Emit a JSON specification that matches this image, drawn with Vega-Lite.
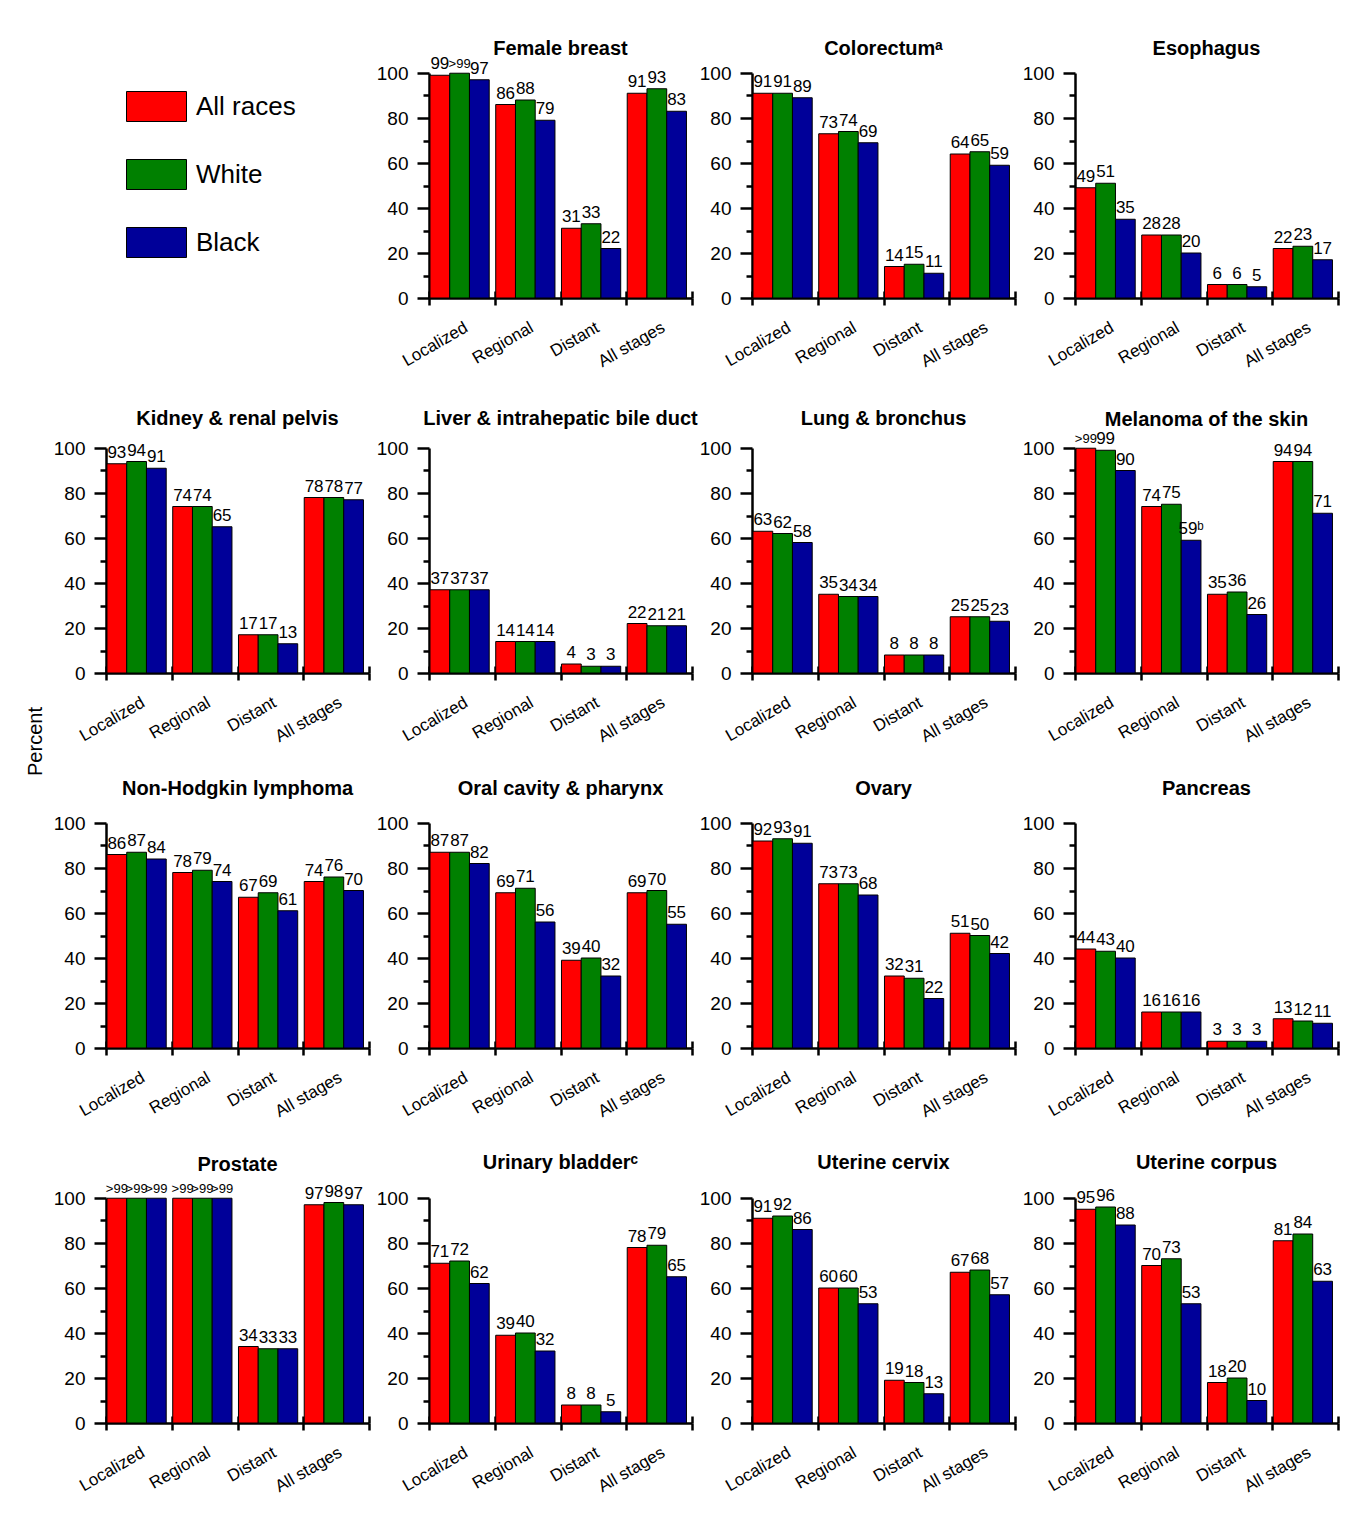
{
  "$schema": "https://vega.github.io/schema/vega-lite/v6.json",
  "background": "white",
  "padding": {"left": 25, "top": 39, "right": 5, "bottom": 5},
  "bounds": "flush",
  "columns": 4,
  "spacing": {"row": 150, "column": 60},
  "datasets": {
    "surv": [
      {"cancer":"Female breast","stage":"Localized","race":"All races","pct":99,"label":"99"},
      {"cancer":"Female breast","stage":"Localized","race":"White","pct":99.9,"label":">99"},
      {"cancer":"Female breast","stage":"Localized","race":"Black","pct":97,"label":"97"},
      {"cancer":"Female breast","stage":"Regional","race":"All races","pct":86,"label":"86"},
      {"cancer":"Female breast","stage":"Regional","race":"White","pct":88,"label":"88"},
      {"cancer":"Female breast","stage":"Regional","race":"Black","pct":79,"label":"79"},
      {"cancer":"Female breast","stage":"Distant","race":"All races","pct":31,"label":"31"},
      {"cancer":"Female breast","stage":"Distant","race":"White","pct":33,"label":"33"},
      {"cancer":"Female breast","stage":"Distant","race":"Black","pct":22,"label":"22"},
      {"cancer":"Female breast","stage":"All stages","race":"All races","pct":91,"label":"91"},
      {"cancer":"Female breast","stage":"All stages","race":"White","pct":93,"label":"93"},
      {"cancer":"Female breast","stage":"All stages","race":"Black","pct":83,"label":"83"},

      {"cancer":"Colorectum","stage":"Localized","race":"All races","pct":91,"label":"91"},
      {"cancer":"Colorectum","stage":"Localized","race":"White","pct":91,"label":"91"},
      {"cancer":"Colorectum","stage":"Localized","race":"Black","pct":89,"label":"89"},
      {"cancer":"Colorectum","stage":"Regional","race":"All races","pct":73,"label":"73"},
      {"cancer":"Colorectum","stage":"Regional","race":"White","pct":74,"label":"74"},
      {"cancer":"Colorectum","stage":"Regional","race":"Black","pct":69,"label":"69"},
      {"cancer":"Colorectum","stage":"Distant","race":"All races","pct":14,"label":"14"},
      {"cancer":"Colorectum","stage":"Distant","race":"White","pct":15,"label":"15"},
      {"cancer":"Colorectum","stage":"Distant","race":"Black","pct":11,"label":"11"},
      {"cancer":"Colorectum","stage":"All stages","race":"All races","pct":64,"label":"64"},
      {"cancer":"Colorectum","stage":"All stages","race":"White","pct":65,"label":"65"},
      {"cancer":"Colorectum","stage":"All stages","race":"Black","pct":59,"label":"59"},

      {"cancer":"Esophagus","stage":"Localized","race":"All races","pct":49,"label":"49"},
      {"cancer":"Esophagus","stage":"Localized","race":"White","pct":51,"label":"51"},
      {"cancer":"Esophagus","stage":"Localized","race":"Black","pct":35,"label":"35"},
      {"cancer":"Esophagus","stage":"Regional","race":"All races","pct":28,"label":"28"},
      {"cancer":"Esophagus","stage":"Regional","race":"White","pct":28,"label":"28"},
      {"cancer":"Esophagus","stage":"Regional","race":"Black","pct":20,"label":"20"},
      {"cancer":"Esophagus","stage":"Distant","race":"All races","pct":6,"label":"6"},
      {"cancer":"Esophagus","stage":"Distant","race":"White","pct":6,"label":"6"},
      {"cancer":"Esophagus","stage":"Distant","race":"Black","pct":5,"label":"5"},
      {"cancer":"Esophagus","stage":"All stages","race":"All races","pct":22,"label":"22"},
      {"cancer":"Esophagus","stage":"All stages","race":"White","pct":23,"label":"23"},
      {"cancer":"Esophagus","stage":"All stages","race":"Black","pct":17,"label":"17"},

      {"cancer":"Kidney & renal pelvis","stage":"Localized","race":"All races","pct":93,"label":"93"},
      {"cancer":"Kidney & renal pelvis","stage":"Localized","race":"White","pct":94,"label":"94"},
      {"cancer":"Kidney & renal pelvis","stage":"Localized","race":"Black","pct":91,"label":"91"},
      {"cancer":"Kidney & renal pelvis","stage":"Regional","race":"All races","pct":74,"label":"74"},
      {"cancer":"Kidney & renal pelvis","stage":"Regional","race":"White","pct":74,"label":"74"},
      {"cancer":"Kidney & renal pelvis","stage":"Regional","race":"Black","pct":65,"label":"65"},
      {"cancer":"Kidney & renal pelvis","stage":"Distant","race":"All races","pct":17,"label":"17"},
      {"cancer":"Kidney & renal pelvis","stage":"Distant","race":"White","pct":17,"label":"17"},
      {"cancer":"Kidney & renal pelvis","stage":"Distant","race":"Black","pct":13,"label":"13"},
      {"cancer":"Kidney & renal pelvis","stage":"All stages","race":"All races","pct":78,"label":"78"},
      {"cancer":"Kidney & renal pelvis","stage":"All stages","race":"White","pct":78,"label":"78"},
      {"cancer":"Kidney & renal pelvis","stage":"All stages","race":"Black","pct":77,"label":"77"},

      {"cancer":"Liver & intrahepatic bile duct","stage":"Localized","race":"All races","pct":37,"label":"37"},
      {"cancer":"Liver & intrahepatic bile duct","stage":"Localized","race":"White","pct":37,"label":"37"},
      {"cancer":"Liver & intrahepatic bile duct","stage":"Localized","race":"Black","pct":37,"label":"37"},
      {"cancer":"Liver & intrahepatic bile duct","stage":"Regional","race":"All races","pct":14,"label":"14"},
      {"cancer":"Liver & intrahepatic bile duct","stage":"Regional","race":"White","pct":14,"label":"14"},
      {"cancer":"Liver & intrahepatic bile duct","stage":"Regional","race":"Black","pct":14,"label":"14"},
      {"cancer":"Liver & intrahepatic bile duct","stage":"Distant","race":"All races","pct":4,"label":"4"},
      {"cancer":"Liver & intrahepatic bile duct","stage":"Distant","race":"White","pct":3,"label":"3"},
      {"cancer":"Liver & intrahepatic bile duct","stage":"Distant","race":"Black","pct":3,"label":"3"},
      {"cancer":"Liver & intrahepatic bile duct","stage":"All stages","race":"All races","pct":22,"label":"22"},
      {"cancer":"Liver & intrahepatic bile duct","stage":"All stages","race":"White","pct":21,"label":"21"},
      {"cancer":"Liver & intrahepatic bile duct","stage":"All stages","race":"Black","pct":21,"label":"21"},

      {"cancer":"Lung & bronchus","stage":"Localized","race":"All races","pct":63,"label":"63"},
      {"cancer":"Lung & bronchus","stage":"Localized","race":"White","pct":62,"label":"62"},
      {"cancer":"Lung & bronchus","stage":"Localized","race":"Black","pct":58,"label":"58"},
      {"cancer":"Lung & bronchus","stage":"Regional","race":"All races","pct":35,"label":"35"},
      {"cancer":"Lung & bronchus","stage":"Regional","race":"White","pct":34,"label":"34"},
      {"cancer":"Lung & bronchus","stage":"Regional","race":"Black","pct":34,"label":"34"},
      {"cancer":"Lung & bronchus","stage":"Distant","race":"All races","pct":8,"label":"8"},
      {"cancer":"Lung & bronchus","stage":"Distant","race":"White","pct":8,"label":"8"},
      {"cancer":"Lung & bronchus","stage":"Distant","race":"Black","pct":8,"label":"8"},
      {"cancer":"Lung & bronchus","stage":"All stages","race":"All races","pct":25,"label":"25"},
      {"cancer":"Lung & bronchus","stage":"All stages","race":"White","pct":25,"label":"25"},
      {"cancer":"Lung & bronchus","stage":"All stages","race":"Black","pct":23,"label":"23"},

      {"cancer":"Melanoma of the skin","stage":"Localized","race":"All races","pct":99.9,"label":">99"},
      {"cancer":"Melanoma of the skin","stage":"Localized","race":"White","pct":99,"label":"99"},
      {"cancer":"Melanoma of the skin","stage":"Localized","race":"Black","pct":90,"label":"90"},
      {"cancer":"Melanoma of the skin","stage":"Regional","race":"All races","pct":74,"label":"74"},
      {"cancer":"Melanoma of the skin","stage":"Regional","race":"White","pct":75,"label":"75"},
      {"cancer":"Melanoma of the skin","stage":"Regional","race":"Black","pct":59,"label":"59ᵇ"},
      {"cancer":"Melanoma of the skin","stage":"Distant","race":"All races","pct":35,"label":"35"},
      {"cancer":"Melanoma of the skin","stage":"Distant","race":"White","pct":36,"label":"36"},
      {"cancer":"Melanoma of the skin","stage":"Distant","race":"Black","pct":26,"label":"26"},
      {"cancer":"Melanoma of the skin","stage":"All stages","race":"All races","pct":94,"label":"94"},
      {"cancer":"Melanoma of the skin","stage":"All stages","race":"White","pct":94,"label":"94"},
      {"cancer":"Melanoma of the skin","stage":"All stages","race":"Black","pct":71,"label":"71"},

      {"cancer":"Non-Hodgkin lymphoma","stage":"Localized","race":"All races","pct":86,"label":"86"},
      {"cancer":"Non-Hodgkin lymphoma","stage":"Localized","race":"White","pct":87,"label":"87"},
      {"cancer":"Non-Hodgkin lymphoma","stage":"Localized","race":"Black","pct":84,"label":"84"},
      {"cancer":"Non-Hodgkin lymphoma","stage":"Regional","race":"All races","pct":78,"label":"78"},
      {"cancer":"Non-Hodgkin lymphoma","stage":"Regional","race":"White","pct":79,"label":"79"},
      {"cancer":"Non-Hodgkin lymphoma","stage":"Regional","race":"Black","pct":74,"label":"74"},
      {"cancer":"Non-Hodgkin lymphoma","stage":"Distant","race":"All races","pct":67,"label":"67"},
      {"cancer":"Non-Hodgkin lymphoma","stage":"Distant","race":"White","pct":69,"label":"69"},
      {"cancer":"Non-Hodgkin lymphoma","stage":"Distant","race":"Black","pct":61,"label":"61"},
      {"cancer":"Non-Hodgkin lymphoma","stage":"All stages","race":"All races","pct":74,"label":"74"},
      {"cancer":"Non-Hodgkin lymphoma","stage":"All stages","race":"White","pct":76,"label":"76"},
      {"cancer":"Non-Hodgkin lymphoma","stage":"All stages","race":"Black","pct":70,"label":"70"},

      {"cancer":"Oral cavity & pharynx","stage":"Localized","race":"All races","pct":87,"label":"87"},
      {"cancer":"Oral cavity & pharynx","stage":"Localized","race":"White","pct":87,"label":"87"},
      {"cancer":"Oral cavity & pharynx","stage":"Localized","race":"Black","pct":82,"label":"82"},
      {"cancer":"Oral cavity & pharynx","stage":"Regional","race":"All races","pct":69,"label":"69"},
      {"cancer":"Oral cavity & pharynx","stage":"Regional","race":"White","pct":71,"label":"71"},
      {"cancer":"Oral cavity & pharynx","stage":"Regional","race":"Black","pct":56,"label":"56"},
      {"cancer":"Oral cavity & pharynx","stage":"Distant","race":"All races","pct":39,"label":"39"},
      {"cancer":"Oral cavity & pharynx","stage":"Distant","race":"White","pct":40,"label":"40"},
      {"cancer":"Oral cavity & pharynx","stage":"Distant","race":"Black","pct":32,"label":"32"},
      {"cancer":"Oral cavity & pharynx","stage":"All stages","race":"All races","pct":69,"label":"69"},
      {"cancer":"Oral cavity & pharynx","stage":"All stages","race":"White","pct":70,"label":"70"},
      {"cancer":"Oral cavity & pharynx","stage":"All stages","race":"Black","pct":55,"label":"55"},

      {"cancer":"Ovary","stage":"Localized","race":"All races","pct":92,"label":"92"},
      {"cancer":"Ovary","stage":"Localized","race":"White","pct":93,"label":"93"},
      {"cancer":"Ovary","stage":"Localized","race":"Black","pct":91,"label":"91"},
      {"cancer":"Ovary","stage":"Regional","race":"All races","pct":73,"label":"73"},
      {"cancer":"Ovary","stage":"Regional","race":"White","pct":73,"label":"73"},
      {"cancer":"Ovary","stage":"Regional","race":"Black","pct":68,"label":"68"},
      {"cancer":"Ovary","stage":"Distant","race":"All races","pct":32,"label":"32"},
      {"cancer":"Ovary","stage":"Distant","race":"White","pct":31,"label":"31"},
      {"cancer":"Ovary","stage":"Distant","race":"Black","pct":22,"label":"22"},
      {"cancer":"Ovary","stage":"All stages","race":"All races","pct":51,"label":"51"},
      {"cancer":"Ovary","stage":"All stages","race":"White","pct":50,"label":"50"},
      {"cancer":"Ovary","stage":"All stages","race":"Black","pct":42,"label":"42"},

      {"cancer":"Pancreas","stage":"Localized","race":"All races","pct":44,"label":"44"},
      {"cancer":"Pancreas","stage":"Localized","race":"White","pct":43,"label":"43"},
      {"cancer":"Pancreas","stage":"Localized","race":"Black","pct":40,"label":"40"},
      {"cancer":"Pancreas","stage":"Regional","race":"All races","pct":16,"label":"16"},
      {"cancer":"Pancreas","stage":"Regional","race":"White","pct":16,"label":"16"},
      {"cancer":"Pancreas","stage":"Regional","race":"Black","pct":16,"label":"16"},
      {"cancer":"Pancreas","stage":"Distant","race":"All races","pct":3,"label":"3"},
      {"cancer":"Pancreas","stage":"Distant","race":"White","pct":3,"label":"3"},
      {"cancer":"Pancreas","stage":"Distant","race":"Black","pct":3,"label":"3"},
      {"cancer":"Pancreas","stage":"All stages","race":"All races","pct":13,"label":"13"},
      {"cancer":"Pancreas","stage":"All stages","race":"White","pct":12,"label":"12"},
      {"cancer":"Pancreas","stage":"All stages","race":"Black","pct":11,"label":"11"},

      {"cancer":"Prostate","stage":"Localized","race":"All races","pct":99.9,"label":">99"},
      {"cancer":"Prostate","stage":"Localized","race":"White","pct":99.9,"label":">99"},
      {"cancer":"Prostate","stage":"Localized","race":"Black","pct":99.9,"label":">99"},
      {"cancer":"Prostate","stage":"Regional","race":"All races","pct":99.9,"label":">99"},
      {"cancer":"Prostate","stage":"Regional","race":"White","pct":99.9,"label":">99"},
      {"cancer":"Prostate","stage":"Regional","race":"Black","pct":99.9,"label":">99"},
      {"cancer":"Prostate","stage":"Distant","race":"All races","pct":34,"label":"34"},
      {"cancer":"Prostate","stage":"Distant","race":"White","pct":33,"label":"33"},
      {"cancer":"Prostate","stage":"Distant","race":"Black","pct":33,"label":"33"},
      {"cancer":"Prostate","stage":"All stages","race":"All races","pct":97,"label":"97"},
      {"cancer":"Prostate","stage":"All stages","race":"White","pct":98,"label":"98"},
      {"cancer":"Prostate","stage":"All stages","race":"Black","pct":97,"label":"97"},

      {"cancer":"Urinary bladder","stage":"Localized","race":"All races","pct":71,"label":"71"},
      {"cancer":"Urinary bladder","stage":"Localized","race":"White","pct":72,"label":"72"},
      {"cancer":"Urinary bladder","stage":"Localized","race":"Black","pct":62,"label":"62"},
      {"cancer":"Urinary bladder","stage":"Regional","race":"All races","pct":39,"label":"39"},
      {"cancer":"Urinary bladder","stage":"Regional","race":"White","pct":40,"label":"40"},
      {"cancer":"Urinary bladder","stage":"Regional","race":"Black","pct":32,"label":"32"},
      {"cancer":"Urinary bladder","stage":"Distant","race":"All races","pct":8,"label":"8"},
      {"cancer":"Urinary bladder","stage":"Distant","race":"White","pct":8,"label":"8"},
      {"cancer":"Urinary bladder","stage":"Distant","race":"Black","pct":5,"label":"5"},
      {"cancer":"Urinary bladder","stage":"All stages","race":"All races","pct":78,"label":"78"},
      {"cancer":"Urinary bladder","stage":"All stages","race":"White","pct":79,"label":"79"},
      {"cancer":"Urinary bladder","stage":"All stages","race":"Black","pct":65,"label":"65"},

      {"cancer":"Uterine cervix","stage":"Localized","race":"All races","pct":91,"label":"91"},
      {"cancer":"Uterine cervix","stage":"Localized","race":"White","pct":92,"label":"92"},
      {"cancer":"Uterine cervix","stage":"Localized","race":"Black","pct":86,"label":"86"},
      {"cancer":"Uterine cervix","stage":"Regional","race":"All races","pct":60,"label":"60"},
      {"cancer":"Uterine cervix","stage":"Regional","race":"White","pct":60,"label":"60"},
      {"cancer":"Uterine cervix","stage":"Regional","race":"Black","pct":53,"label":"53"},
      {"cancer":"Uterine cervix","stage":"Distant","race":"All races","pct":19,"label":"19"},
      {"cancer":"Uterine cervix","stage":"Distant","race":"White","pct":18,"label":"18"},
      {"cancer":"Uterine cervix","stage":"Distant","race":"Black","pct":13,"label":"13"},
      {"cancer":"Uterine cervix","stage":"All stages","race":"All races","pct":67,"label":"67"},
      {"cancer":"Uterine cervix","stage":"All stages","race":"White","pct":68,"label":"68"},
      {"cancer":"Uterine cervix","stage":"All stages","race":"Black","pct":57,"label":"57"},

      {"cancer":"Uterine corpus","stage":"Localized","race":"All races","pct":95,"label":"95"},
      {"cancer":"Uterine corpus","stage":"Localized","race":"White","pct":96,"label":"96"},
      {"cancer":"Uterine corpus","stage":"Localized","race":"Black","pct":88,"label":"88"},
      {"cancer":"Uterine corpus","stage":"Regional","race":"All races","pct":70,"label":"70"},
      {"cancer":"Uterine corpus","stage":"Regional","race":"White","pct":73,"label":"73"},
      {"cancer":"Uterine corpus","stage":"Regional","race":"Black","pct":53,"label":"53"},
      {"cancer":"Uterine corpus","stage":"Distant","race":"All races","pct":18,"label":"18"},
      {"cancer":"Uterine corpus","stage":"Distant","race":"White","pct":20,"label":"20"},
      {"cancer":"Uterine corpus","stage":"Distant","race":"Black","pct":10,"label":"10"},
      {"cancer":"Uterine corpus","stage":"All stages","race":"All races","pct":81,"label":"81"},
      {"cancer":"Uterine corpus","stage":"All stages","race":"White","pct":84,"label":"84"},
      {"cancer":"Uterine corpus","stage":"All stages","race":"Black","pct":63,"label":"63"}
    ]
  },
  "data": {"name": "surv"},
  "concat": [
    {"width": 263, "height": 225, "data": {"values": []}, "mark": {"type": "point", "opacity": 0}},
    {"title": {"text": "Female breast", "offset": -4}, "width": 263, "height": 225,
     "transform": [{"filter": {"field": "cancer", "equal": "Female breast"}}],
     "resolve": {"axis": {"x": "independent", "y": "independent"}},
     "layer": [
      {"mark": {"type": "bar", "stroke": "#000", "strokeWidth": 1},
       "encoding": {
        "x": {"field": "stage", "type": "nominal", "sort": ["Localized","Regional","Distant","All stages"], "scale": {"paddingInner": 0, "paddingOuter": 0}, "title": null, "axis": {"orient": "bottom", "tickSize": 7}},
        "xOffset": {"field": "race", "type": "nominal", "sort": ["All races","White","Black"], "scale": {"paddingInner": 0, "paddingOuter": 0.165, "align": 0.15}},
        "y": {"field": "pct", "type": "quantitative", "scale": {"domain": [0, 100], "nice": false}, "title": null, "axis": {"values": [0,10,20,30,40,50,60,70,80,90,100], "labelExpr": "datum.value % 20 === 0 ? datum.label : ''", "tickSize": {"condition": {"test": "datum.value % 20 !== 0", "value": 6}, "value": 12}}},
        "color": {"field": "race", "type": "nominal", "sort": ["All races","White","Black"], "scale": {"range": ["#ff0000", "#008000", "#000099"]}, "title": null,
          "legend": {"orient": "none", "legendX": 20, "legendY": 3, "padding": 0, "symbolType": "M-1,-0.5H1V0.5H-1Z", "symbolSize": 3600, "symbolStrokeColor": "#333", "symbolStrokeWidth": 1, "symbolOpacity": 1, "labelFontSize": 26, "labelOffset": 9, "rowPadding": 20, "labelColor": "black", "labelFont": "Liberation Sans"}}
       }},
      {"mark": {"type": "text", "baseline": "bottom", "dy": -2},
       "encoding": {
        "x": {"field": "stage", "type": "nominal", "sort": ["Localized","Regional","Distant","All stages"], "title": null, "axis": {"orient": "bottom", "tickSize": -7, "labels": false, "domain": false}},
        "xOffset": {"field": "race", "type": "nominal", "sort": ["All races","White","Black"]},
        "y": {"field": "pct", "type": "quantitative", "axis": null},
        "size": {"condition": {"test": "datum.label === '>99'", "value": 13}, "value": 17},
        "text": {"field": "label"}
       }}
     ]},
    {"title": {"text": "Colorectumᵃ", "offset": 5}, "width": 263, "height": 225,
     "transform": [{"filter": {"field": "cancer", "equal": "Colorectum"}}],
     "resolve": {"axis": {"x": "independent", "y": "independent"}},
     "layer": [
      {"mark": {"type": "bar", "stroke": "#000", "strokeWidth": 1},
       "encoding": {
        "x": {"field": "stage", "type": "nominal", "sort": ["Localized","Regional","Distant","All stages"], "scale": {"paddingInner": 0, "paddingOuter": 0}, "title": null, "axis": {"orient": "bottom", "tickSize": 7}},
        "xOffset": {"field": "race", "type": "nominal", "sort": ["All races","White","Black"], "scale": {"paddingInner": 0, "paddingOuter": 0.165, "align": 0.15}},
        "y": {"field": "pct", "type": "quantitative", "scale": {"domain": [0, 100], "nice": false}, "title": null, "axis": {"values": [0,10,20,30,40,50,60,70,80,90,100], "labelExpr": "datum.value % 20 === 0 ? datum.label : ''", "tickSize": {"condition": {"test": "datum.value % 20 !== 0", "value": 6}, "value": 12}}},
        "color": {"field": "race", "type": "nominal", "sort": ["All races","White","Black"], "scale": {"range": ["#ff0000", "#008000", "#000099"]}, "title": null}
       }},
      {"mark": {"type": "text", "baseline": "bottom", "dy": -2},
       "encoding": {
        "x": {"field": "stage", "type": "nominal", "sort": ["Localized","Regional","Distant","All stages"], "title": null, "axis": {"orient": "bottom", "tickSize": -7, "labels": false, "domain": false}},
        "xOffset": {"field": "race", "type": "nominal", "sort": ["All races","White","Black"]},
        "y": {"field": "pct", "type": "quantitative", "axis": null},
        "size": {"condition": {"test": "datum.label === '>99'", "value": 13}, "value": 17},
        "text": {"field": "label"}
       }}
     ]},
    {"title": {"text": "Esophagus", "offset": 5}, "width": 263, "height": 225,
     "transform": [{"filter": {"field": "cancer", "equal": "Esophagus"}}],
     "resolve": {"axis": {"x": "independent", "y": "independent"}},
     "layer": [
      {"mark": {"type": "bar", "stroke": "#000", "strokeWidth": 1},
       "encoding": {
        "x": {"field": "stage", "type": "nominal", "sort": ["Localized","Regional","Distant","All stages"], "scale": {"paddingInner": 0, "paddingOuter": 0}, "title": null, "axis": {"orient": "bottom", "tickSize": 7}},
        "xOffset": {"field": "race", "type": "nominal", "sort": ["All races","White","Black"], "scale": {"paddingInner": 0, "paddingOuter": 0.165, "align": 0.15}},
        "y": {"field": "pct", "type": "quantitative", "scale": {"domain": [0, 100], "nice": false}, "title": null, "axis": {"values": [0,10,20,30,40,50,60,70,80,90,100], "labelExpr": "datum.value % 20 === 0 ? datum.label : ''", "tickSize": {"condition": {"test": "datum.value % 20 !== 0", "value": 6}, "value": 12}}},
        "color": {"field": "race", "type": "nominal", "sort": ["All races","White","Black"], "scale": {"range": ["#ff0000", "#008000", "#000099"]}, "title": null}
       }},
      {"mark": {"type": "text", "baseline": "bottom", "dy": -2},
       "encoding": {
        "x": {"field": "stage", "type": "nominal", "sort": ["Localized","Regional","Distant","All stages"], "title": null, "axis": {"orient": "bottom", "tickSize": -7, "labels": false, "domain": false}},
        "xOffset": {"field": "race", "type": "nominal", "sort": ["All races","White","Black"]},
        "y": {"field": "pct", "type": "quantitative", "axis": null},
        "size": {"condition": {"test": "datum.label === '>99'", "value": 13}, "value": 17},
        "text": {"field": "label"}
       }}
     ]},
    {"title": {"text": "Kidney & renal pelvis", "offset": 10}, "width": 263, "height": 225,
     "transform": [{"filter": {"field": "cancer", "equal": "Kidney & renal pelvis"}}],
     "resolve": {"axis": {"x": "independent", "y": "independent"}},
     "layer": [
      {"mark": {"type": "bar", "stroke": "#000", "strokeWidth": 1},
       "encoding": {
        "x": {"field": "stage", "type": "nominal", "sort": ["Localized","Regional","Distant","All stages"], "scale": {"paddingInner": 0, "paddingOuter": 0}, "title": null, "axis": {"orient": "bottom", "tickSize": 7}},
        "xOffset": {"field": "race", "type": "nominal", "sort": ["All races","White","Black"], "scale": {"paddingInner": 0, "paddingOuter": 0.165, "align": 0.15}},
        "y": {"field": "pct", "type": "quantitative", "scale": {"domain": [0, 100], "nice": false}, "title": "Percent", "axis": {"values": [0,10,20,30,40,50,60,70,80,90,100], "labelExpr": "datum.value % 20 === 0 ? datum.label : ''", "tickSize": {"condition": {"test": "datum.value % 20 !== 0", "value": 6}, "value": 12}, "titleX": -71, "titleY": 293, "titleAngle": -90, "titleAlign": "center", "titleBaseline": "middle", "titleFontSize": 20, "titleFontWeight": "normal"}},
        "color": {"field": "race", "type": "nominal", "sort": ["All races","White","Black"], "scale": {"range": ["#ff0000", "#008000", "#000099"]}, "title": null}
       }},
      {"mark": {"type": "text", "baseline": "bottom", "dy": -2},
       "encoding": {
        "x": {"field": "stage", "type": "nominal", "sort": ["Localized","Regional","Distant","All stages"], "title": null, "axis": {"orient": "bottom", "tickSize": -7, "labels": false, "domain": false}},
        "xOffset": {"field": "race", "type": "nominal", "sort": ["All races","White","Black"]},
        "y": {"field": "pct", "type": "quantitative", "axis": null},
        "size": {"condition": {"test": "datum.label === '>99'", "value": 13}, "value": 17},
        "text": {"field": "label"}
       }}
     ]},
    {"title": {"text": "Liver & intrahepatic bile duct", "offset": 10}, "width": 263, "height": 225,
     "transform": [{"filter": {"field": "cancer", "equal": "Liver & intrahepatic bile duct"}}],
     "resolve": {"axis": {"x": "independent", "y": "independent"}},
     "layer": [
      {"mark": {"type": "bar", "stroke": "#000", "strokeWidth": 1},
       "encoding": {
        "x": {"field": "stage", "type": "nominal", "sort": ["Localized","Regional","Distant","All stages"], "scale": {"paddingInner": 0, "paddingOuter": 0}, "title": null, "axis": {"orient": "bottom", "tickSize": 7}},
        "xOffset": {"field": "race", "type": "nominal", "sort": ["All races","White","Black"], "scale": {"paddingInner": 0, "paddingOuter": 0.165, "align": 0.15}},
        "y": {"field": "pct", "type": "quantitative", "scale": {"domain": [0, 100], "nice": false}, "title": null, "axis": {"values": [0,10,20,30,40,50,60,70,80,90,100], "labelExpr": "datum.value % 20 === 0 ? datum.label : ''", "tickSize": {"condition": {"test": "datum.value % 20 !== 0", "value": 6}, "value": 12}}},
        "color": {"field": "race", "type": "nominal", "sort": ["All races","White","Black"], "scale": {"range": ["#ff0000", "#008000", "#000099"]}, "title": null}
       }},
      {"mark": {"type": "text", "baseline": "bottom", "dy": -2},
       "encoding": {
        "x": {"field": "stage", "type": "nominal", "sort": ["Localized","Regional","Distant","All stages"], "title": null, "axis": {"orient": "bottom", "tickSize": -7, "labels": false, "domain": false}},
        "xOffset": {"field": "race", "type": "nominal", "sort": ["All races","White","Black"]},
        "y": {"field": "pct", "type": "quantitative", "axis": null},
        "size": {"condition": {"test": "datum.label === '>99'", "value": 13}, "value": 17},
        "text": {"field": "label"}
       }}
     ]},
    {"title": {"text": "Lung & bronchus", "offset": 10}, "width": 263, "height": 225,
     "transform": [{"filter": {"field": "cancer", "equal": "Lung & bronchus"}}],
     "resolve": {"axis": {"x": "independent", "y": "independent"}},
     "layer": [
      {"mark": {"type": "bar", "stroke": "#000", "strokeWidth": 1},
       "encoding": {
        "x": {"field": "stage", "type": "nominal", "sort": ["Localized","Regional","Distant","All stages"], "scale": {"paddingInner": 0, "paddingOuter": 0}, "title": null, "axis": {"orient": "bottom", "tickSize": 7}},
        "xOffset": {"field": "race", "type": "nominal", "sort": ["All races","White","Black"], "scale": {"paddingInner": 0, "paddingOuter": 0.165, "align": 0.15}},
        "y": {"field": "pct", "type": "quantitative", "scale": {"domain": [0, 100], "nice": false}, "title": null, "axis": {"values": [0,10,20,30,40,50,60,70,80,90,100], "labelExpr": "datum.value % 20 === 0 ? datum.label : ''", "tickSize": {"condition": {"test": "datum.value % 20 !== 0", "value": 6}, "value": 12}}},
        "color": {"field": "race", "type": "nominal", "sort": ["All races","White","Black"], "scale": {"range": ["#ff0000", "#008000", "#000099"]}, "title": null}
       }},
      {"mark": {"type": "text", "baseline": "bottom", "dy": -2},
       "encoding": {
        "x": {"field": "stage", "type": "nominal", "sort": ["Localized","Regional","Distant","All stages"], "title": null, "axis": {"orient": "bottom", "tickSize": -7, "labels": false, "domain": false}},
        "xOffset": {"field": "race", "type": "nominal", "sort": ["All races","White","Black"]},
        "y": {"field": "pct", "type": "quantitative", "axis": null},
        "size": {"condition": {"test": "datum.label === '>99'", "value": 13}, "value": 17},
        "text": {"field": "label"}
       }}
     ]},
    {"title": {"text": "Melanoma of the skin", "offset": 0}, "width": 263, "height": 225,
     "transform": [{"filter": {"field": "cancer", "equal": "Melanoma of the skin"}}],
     "resolve": {"axis": {"x": "independent", "y": "independent"}},
     "layer": [
      {"mark": {"type": "bar", "stroke": "#000", "strokeWidth": 1},
       "encoding": {
        "x": {"field": "stage", "type": "nominal", "sort": ["Localized","Regional","Distant","All stages"], "scale": {"paddingInner": 0, "paddingOuter": 0}, "title": null, "axis": {"orient": "bottom", "tickSize": 7}},
        "xOffset": {"field": "race", "type": "nominal", "sort": ["All races","White","Black"], "scale": {"paddingInner": 0, "paddingOuter": 0.165, "align": 0.15}},
        "y": {"field": "pct", "type": "quantitative", "scale": {"domain": [0, 100], "nice": false}, "title": null, "axis": {"values": [0,10,20,30,40,50,60,70,80,90,100], "labelExpr": "datum.value % 20 === 0 ? datum.label : ''", "tickSize": {"condition": {"test": "datum.value % 20 !== 0", "value": 6}, "value": 12}}},
        "color": {"field": "race", "type": "nominal", "sort": ["All races","White","Black"], "scale": {"range": ["#ff0000", "#008000", "#000099"]}, "title": null}
       }},
      {"mark": {"type": "text", "baseline": "bottom", "dy": -2},
       "encoding": {
        "x": {"field": "stage", "type": "nominal", "sort": ["Localized","Regional","Distant","All stages"], "title": null, "axis": {"orient": "bottom", "tickSize": -7, "labels": false, "domain": false}},
        "xOffset": {"field": "race", "type": "nominal", "sort": ["All races","White","Black"]},
        "y": {"field": "pct", "type": "quantitative", "axis": null},
        "size": {"condition": {"test": "datum.label === '>99'", "value": 13}, "value": 17},
        "text": {"field": "label"}
       }}
     ]},
    {"title": {"text": "Non-Hodgkin lymphoma", "offset": 15}, "width": 263, "height": 225,
     "transform": [{"filter": {"field": "cancer", "equal": "Non-Hodgkin lymphoma"}}],
     "resolve": {"axis": {"x": "independent", "y": "independent"}},
     "layer": [
      {"mark": {"type": "bar", "stroke": "#000", "strokeWidth": 1},
       "encoding": {
        "x": {"field": "stage", "type": "nominal", "sort": ["Localized","Regional","Distant","All stages"], "scale": {"paddingInner": 0, "paddingOuter": 0}, "title": null, "axis": {"orient": "bottom", "tickSize": 7}},
        "xOffset": {"field": "race", "type": "nominal", "sort": ["All races","White","Black"], "scale": {"paddingInner": 0, "paddingOuter": 0.165, "align": 0.15}},
        "y": {"field": "pct", "type": "quantitative", "scale": {"domain": [0, 100], "nice": false}, "title": null, "axis": {"values": [0,10,20,30,40,50,60,70,80,90,100], "labelExpr": "datum.value % 20 === 0 ? datum.label : ''", "tickSize": {"condition": {"test": "datum.value % 20 !== 0", "value": 6}, "value": 12}}},
        "color": {"field": "race", "type": "nominal", "sort": ["All races","White","Black"], "scale": {"range": ["#ff0000", "#008000", "#000099"]}, "title": null}
       }},
      {"mark": {"type": "text", "baseline": "bottom", "dy": -2},
       "encoding": {
        "x": {"field": "stage", "type": "nominal", "sort": ["Localized","Regional","Distant","All stages"], "title": null, "axis": {"orient": "bottom", "tickSize": -7, "labels": false, "domain": false}},
        "xOffset": {"field": "race", "type": "nominal", "sort": ["All races","White","Black"]},
        "y": {"field": "pct", "type": "quantitative", "axis": null},
        "size": {"condition": {"test": "datum.label === '>99'", "value": 13}, "value": 17},
        "text": {"field": "label"}
       }}
     ]},
    {"title": {"text": "Oral cavity & pharynx", "offset": 15}, "width": 263, "height": 225,
     "transform": [{"filter": {"field": "cancer", "equal": "Oral cavity & pharynx"}}],
     "resolve": {"axis": {"x": "independent", "y": "independent"}},
     "layer": [
      {"mark": {"type": "bar", "stroke": "#000", "strokeWidth": 1},
       "encoding": {
        "x": {"field": "stage", "type": "nominal", "sort": ["Localized","Regional","Distant","All stages"], "scale": {"paddingInner": 0, "paddingOuter": 0}, "title": null, "axis": {"orient": "bottom", "tickSize": 7}},
        "xOffset": {"field": "race", "type": "nominal", "sort": ["All races","White","Black"], "scale": {"paddingInner": 0, "paddingOuter": 0.165, "align": 0.15}},
        "y": {"field": "pct", "type": "quantitative", "scale": {"domain": [0, 100], "nice": false}, "title": null, "axis": {"values": [0,10,20,30,40,50,60,70,80,90,100], "labelExpr": "datum.value % 20 === 0 ? datum.label : ''", "tickSize": {"condition": {"test": "datum.value % 20 !== 0", "value": 6}, "value": 12}}},
        "color": {"field": "race", "type": "nominal", "sort": ["All races","White","Black"], "scale": {"range": ["#ff0000", "#008000", "#000099"]}, "title": null}
       }},
      {"mark": {"type": "text", "baseline": "bottom", "dy": -2},
       "encoding": {
        "x": {"field": "stage", "type": "nominal", "sort": ["Localized","Regional","Distant","All stages"], "title": null, "axis": {"orient": "bottom", "tickSize": -7, "labels": false, "domain": false}},
        "xOffset": {"field": "race", "type": "nominal", "sort": ["All races","White","Black"]},
        "y": {"field": "pct", "type": "quantitative", "axis": null},
        "size": {"condition": {"test": "datum.label === '>99'", "value": 13}, "value": 17},
        "text": {"field": "label"}
       }}
     ]},
    {"title": {"text": "Ovary", "offset": 15}, "width": 263, "height": 225,
     "transform": [{"filter": {"field": "cancer", "equal": "Ovary"}}],
     "resolve": {"axis": {"x": "independent", "y": "independent"}},
     "layer": [
      {"mark": {"type": "bar", "stroke": "#000", "strokeWidth": 1},
       "encoding": {
        "x": {"field": "stage", "type": "nominal", "sort": ["Localized","Regional","Distant","All stages"], "scale": {"paddingInner": 0, "paddingOuter": 0}, "title": null, "axis": {"orient": "bottom", "tickSize": 7}},
        "xOffset": {"field": "race", "type": "nominal", "sort": ["All races","White","Black"], "scale": {"paddingInner": 0, "paddingOuter": 0.165, "align": 0.15}},
        "y": {"field": "pct", "type": "quantitative", "scale": {"domain": [0, 100], "nice": false}, "title": null, "axis": {"values": [0,10,20,30,40,50,60,70,80,90,100], "labelExpr": "datum.value % 20 === 0 ? datum.label : ''", "tickSize": {"condition": {"test": "datum.value % 20 !== 0", "value": 6}, "value": 12}}},
        "color": {"field": "race", "type": "nominal", "sort": ["All races","White","Black"], "scale": {"range": ["#ff0000", "#008000", "#000099"]}, "title": null}
       }},
      {"mark": {"type": "text", "baseline": "bottom", "dy": -2},
       "encoding": {
        "x": {"field": "stage", "type": "nominal", "sort": ["Localized","Regional","Distant","All stages"], "title": null, "axis": {"orient": "bottom", "tickSize": -7, "labels": false, "domain": false}},
        "xOffset": {"field": "race", "type": "nominal", "sort": ["All races","White","Black"]},
        "y": {"field": "pct", "type": "quantitative", "axis": null},
        "size": {"condition": {"test": "datum.label === '>99'", "value": 13}, "value": 17},
        "text": {"field": "label"}
       }}
     ]},
    {"title": {"text": "Pancreas", "offset": 15}, "width": 263, "height": 225,
     "transform": [{"filter": {"field": "cancer", "equal": "Pancreas"}}],
     "resolve": {"axis": {"x": "independent", "y": "independent"}},
     "layer": [
      {"mark": {"type": "bar", "stroke": "#000", "strokeWidth": 1},
       "encoding": {
        "x": {"field": "stage", "type": "nominal", "sort": ["Localized","Regional","Distant","All stages"], "scale": {"paddingInner": 0, "paddingOuter": 0}, "title": null, "axis": {"orient": "bottom", "tickSize": 7}},
        "xOffset": {"field": "race", "type": "nominal", "sort": ["All races","White","Black"], "scale": {"paddingInner": 0, "paddingOuter": 0.165, "align": 0.15}},
        "y": {"field": "pct", "type": "quantitative", "scale": {"domain": [0, 100], "nice": false}, "title": null, "axis": {"values": [0,10,20,30,40,50,60,70,80,90,100], "labelExpr": "datum.value % 20 === 0 ? datum.label : ''", "tickSize": {"condition": {"test": "datum.value % 20 !== 0", "value": 6}, "value": 12}}},
        "color": {"field": "race", "type": "nominal", "sort": ["All races","White","Black"], "scale": {"range": ["#ff0000", "#008000", "#000099"]}, "title": null}
       }},
      {"mark": {"type": "text", "baseline": "bottom", "dy": -2},
       "encoding": {
        "x": {"field": "stage", "type": "nominal", "sort": ["Localized","Regional","Distant","All stages"], "title": null, "axis": {"orient": "bottom", "tickSize": -7, "labels": false, "domain": false}},
        "xOffset": {"field": "race", "type": "nominal", "sort": ["All races","White","Black"]},
        "y": {"field": "pct", "type": "quantitative", "axis": null},
        "size": {"condition": {"test": "datum.label === '>99'", "value": 13}, "value": 17},
        "text": {"field": "label"}
       }}
     ]},
    {"title": {"text": "Prostate", "offset": 8}, "width": 263, "height": 225,
     "transform": [{"filter": {"field": "cancer", "equal": "Prostate"}}],
     "resolve": {"axis": {"x": "independent", "y": "independent"}},
     "layer": [
      {"mark": {"type": "bar", "stroke": "#000", "strokeWidth": 1},
       "encoding": {
        "x": {"field": "stage", "type": "nominal", "sort": ["Localized","Regional","Distant","All stages"], "scale": {"paddingInner": 0, "paddingOuter": 0}, "title": null, "axis": {"orient": "bottom", "tickSize": 7}},
        "xOffset": {"field": "race", "type": "nominal", "sort": ["All races","White","Black"], "scale": {"paddingInner": 0, "paddingOuter": 0.165, "align": 0.15}},
        "y": {"field": "pct", "type": "quantitative", "scale": {"domain": [0, 100], "nice": false}, "title": null, "axis": {"values": [0,10,20,30,40,50,60,70,80,90,100], "labelExpr": "datum.value % 20 === 0 ? datum.label : ''", "tickSize": {"condition": {"test": "datum.value % 20 !== 0", "value": 6}, "value": 12}}},
        "color": {"field": "race", "type": "nominal", "sort": ["All races","White","Black"], "scale": {"range": ["#ff0000", "#008000", "#000099"]}, "title": null}
       }},
      {"mark": {"type": "text", "baseline": "bottom", "dy": -2},
       "encoding": {
        "x": {"field": "stage", "type": "nominal", "sort": ["Localized","Regional","Distant","All stages"], "title": null, "axis": {"orient": "bottom", "tickSize": -7, "labels": false, "domain": false}},
        "xOffset": {"field": "race", "type": "nominal", "sort": ["All races","White","Black"]},
        "y": {"field": "pct", "type": "quantitative", "axis": null},
        "size": {"condition": {"test": "datum.label === '>99'", "value": 13}, "value": 17},
        "text": {"field": "label"}
       }}
     ]},
    {"title": {"text": "Urinary bladderᶜ", "offset": 16}, "width": 263, "height": 225,
     "transform": [{"filter": {"field": "cancer", "equal": "Urinary bladder"}}],
     "resolve": {"axis": {"x": "independent", "y": "independent"}},
     "layer": [
      {"mark": {"type": "bar", "stroke": "#000", "strokeWidth": 1},
       "encoding": {
        "x": {"field": "stage", "type": "nominal", "sort": ["Localized","Regional","Distant","All stages"], "scale": {"paddingInner": 0, "paddingOuter": 0}, "title": null, "axis": {"orient": "bottom", "tickSize": 7}},
        "xOffset": {"field": "race", "type": "nominal", "sort": ["All races","White","Black"], "scale": {"paddingInner": 0, "paddingOuter": 0.165, "align": 0.15}},
        "y": {"field": "pct", "type": "quantitative", "scale": {"domain": [0, 100], "nice": false}, "title": null, "axis": {"values": [0,10,20,30,40,50,60,70,80,90,100], "labelExpr": "datum.value % 20 === 0 ? datum.label : ''", "tickSize": {"condition": {"test": "datum.value % 20 !== 0", "value": 6}, "value": 12}}},
        "color": {"field": "race", "type": "nominal", "sort": ["All races","White","Black"], "scale": {"range": ["#ff0000", "#008000", "#000099"]}, "title": null}
       }},
      {"mark": {"type": "text", "baseline": "bottom", "dy": -2},
       "encoding": {
        "x": {"field": "stage", "type": "nominal", "sort": ["Localized","Regional","Distant","All stages"], "title": null, "axis": {"orient": "bottom", "tickSize": -7, "labels": false, "domain": false}},
        "xOffset": {"field": "race", "type": "nominal", "sort": ["All races","White","Black"]},
        "y": {"field": "pct", "type": "quantitative", "axis": null},
        "size": {"condition": {"test": "datum.label === '>99'", "value": 13}, "value": 17},
        "text": {"field": "label"}
       }}
     ]},
    {"title": {"text": "Uterine cervix", "offset": 16}, "width": 263, "height": 225,
     "transform": [{"filter": {"field": "cancer", "equal": "Uterine cervix"}}],
     "resolve": {"axis": {"x": "independent", "y": "independent"}},
     "layer": [
      {"mark": {"type": "bar", "stroke": "#000", "strokeWidth": 1},
       "encoding": {
        "x": {"field": "stage", "type": "nominal", "sort": ["Localized","Regional","Distant","All stages"], "scale": {"paddingInner": 0, "paddingOuter": 0}, "title": null, "axis": {"orient": "bottom", "tickSize": 7}},
        "xOffset": {"field": "race", "type": "nominal", "sort": ["All races","White","Black"], "scale": {"paddingInner": 0, "paddingOuter": 0.165, "align": 0.15}},
        "y": {"field": "pct", "type": "quantitative", "scale": {"domain": [0, 100], "nice": false}, "title": null, "axis": {"values": [0,10,20,30,40,50,60,70,80,90,100], "labelExpr": "datum.value % 20 === 0 ? datum.label : ''", "tickSize": {"condition": {"test": "datum.value % 20 !== 0", "value": 6}, "value": 12}}},
        "color": {"field": "race", "type": "nominal", "sort": ["All races","White","Black"], "scale": {"range": ["#ff0000", "#008000", "#000099"]}, "title": null}
       }},
      {"mark": {"type": "text", "baseline": "bottom", "dy": -2},
       "encoding": {
        "x": {"field": "stage", "type": "nominal", "sort": ["Localized","Regional","Distant","All stages"], "title": null, "axis": {"orient": "bottom", "tickSize": -7, "labels": false, "domain": false}},
        "xOffset": {"field": "race", "type": "nominal", "sort": ["All races","White","Black"]},
        "y": {"field": "pct", "type": "quantitative", "axis": null},
        "size": {"condition": {"test": "datum.label === '>99'", "value": 13}, "value": 17},
        "text": {"field": "label"}
       }}
     ]},
    {"title": {"text": "Uterine corpus", "offset": 14}, "width": 263, "height": 225,
     "transform": [{"filter": {"field": "cancer", "equal": "Uterine corpus"}}],
     "resolve": {"axis": {"x": "independent", "y": "independent"}},
     "layer": [
      {"mark": {"type": "bar", "stroke": "#000", "strokeWidth": 1},
       "encoding": {
        "x": {"field": "stage", "type": "nominal", "sort": ["Localized","Regional","Distant","All stages"], "scale": {"paddingInner": 0, "paddingOuter": 0}, "title": null, "axis": {"orient": "bottom", "tickSize": 7}},
        "xOffset": {"field": "race", "type": "nominal", "sort": ["All races","White","Black"], "scale": {"paddingInner": 0, "paddingOuter": 0.165, "align": 0.15}},
        "y": {"field": "pct", "type": "quantitative", "scale": {"domain": [0, 100], "nice": false}, "title": null, "axis": {"values": [0,10,20,30,40,50,60,70,80,90,100], "labelExpr": "datum.value % 20 === 0 ? datum.label : ''", "tickSize": {"condition": {"test": "datum.value % 20 !== 0", "value": 6}, "value": 12}}},
        "color": {"field": "race", "type": "nominal", "sort": ["All races","White","Black"], "scale": {"range": ["#ff0000", "#008000", "#000099"]}, "title": null}
       }},
      {"mark": {"type": "text", "baseline": "bottom", "dy": -2},
       "encoding": {
        "x": {"field": "stage", "type": "nominal", "sort": ["Localized","Regional","Distant","All stages"], "title": null, "axis": {"orient": "bottom", "tickSize": -7, "labels": false, "domain": false}},
        "xOffset": {"field": "race", "type": "nominal", "sort": ["All races","White","Black"]},
        "y": {"field": "pct", "type": "quantitative", "axis": null},
        "size": {"condition": {"test": "datum.label === '>99'", "value": 13}, "value": 17},
        "text": {"field": "label"}
       }}
     ]}
  ],
  "config": {
    "font": "Liberation Sans",
    "view": {"stroke": null},
    "text": {"font": "Liberation Sans", "color": "black"},
    "title": {"font": "Liberation Sans", "fontSize": 20, "fontWeight": "bold", "color": "black", "frame": "group", "anchor": "middle"},
    "axis": {"grid": false, "domainColor": "black", "domainWidth": 2.5, "tickColor": "black", "tickWidth": 2.5, "labelColor": "black", "labelFont": "Liberation Sans", "titleColor": "black", "titleFont": "Liberation Sans"},
    "axisX": {"tickBand": "extent", "labelAngle": -30, "labelAlign": "right", "labelBaseline": "top", "labelFontSize": 17, "labelPadding": 14},
    "axisY": {"labelFontSize": 19, "labelPadding": 9}
  }
}
